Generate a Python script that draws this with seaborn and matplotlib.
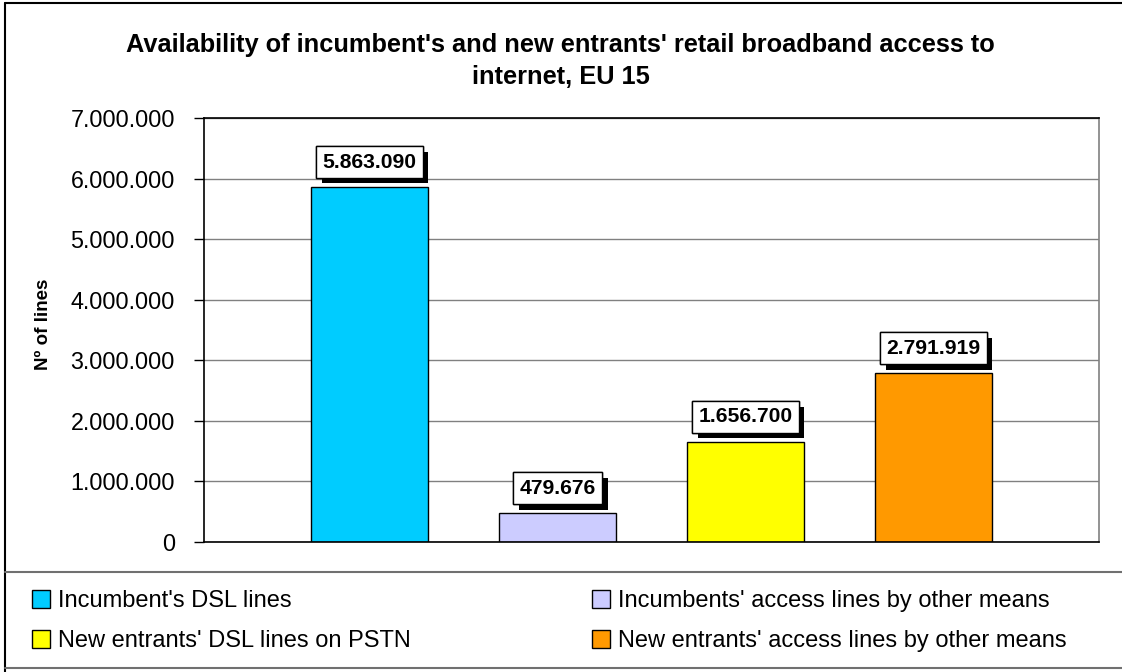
import matplotlib
matplotlib.use("Agg")
import matplotlib.pyplot as plt
import matplotlib.patheffects as pe
from matplotlib.lines import Line2D
import seaborn as sns
import pandas as pd

# ---- data ----
series = ["Incumbent's DSL lines",
          "Incumbents' access lines by other means",
          "New entrants' DSL lines on PSTN",
          "New entrants' access lines by other means"]
values = [5863090, 479676, 1656700, 2791919]
colors = ["#00CCFF", "#CCCCFF", "#FFFF00", "#FF9900"]
yticks = [0, 1000000, 2000000, 3000000, 4000000, 5000000, 6000000, 7000000]
title = "Availability of incumbent's and new entrants' retail broadband access to\ninternet, EU 15"
ylabel = "Nº of lines"

df = pd.DataFrame({"cat": ["EU 15"] * 4, "series": series, "value": values})

sns.set_theme(style="white")
plt.rcParams["font.family"] = ["Liberation Sans", "DejaVu Sans"]
plt.rcParams.update({"text.color": "black", "axes.labelcolor": "black",
                     "xtick.color": "black", "ytick.color": "black"})

fig = plt.figure(figsize=(11.22, 6.72), dpi=100)
ax = fig.add_axes([204 / 1122, 1 - 542 / 672, (1099 - 204) / 1122, (542 - 118) / 672])

sns.barplot(data=df, x="cat", y="value", hue="series", hue_order=series,
            palette=colors, saturation=1, gap=0.38, width=0.8, edgecolor="black",
            linewidth=1, legend=True, ax=ax)

ax.set_xlim(-0.476, 0.476)
ax.set_ylim(0, 7000000)
ax.set_yticks(yticks)
ax.set_yticklabels([f"{v:,.0f}".replace(",", ".") for v in yticks], fontsize=16.8)
ax.set_xticks([])
ax.set_xlabel("")
ax.set_ylabel(ylabel, fontsize=13.5, fontweight="bold")
ax.yaxis.set_label_coords((52 - 204) / 895, (542 - 324) / 424)
ax.yaxis.grid(True, color="#808080", linewidth=1)
ax.set_axisbelow(True)
ax.tick_params(axis="y", which="both", left=True, length=7, width=1, color="black",
               labelcolor="black", pad=14)
for s in ["left", "bottom", "top"]:
    ax.spines[s].set_color("black")
    ax.spines[s].set_linewidth(1.2)
ax.spines["right"].set_color("#808080")
ax.spines["right"].set_linewidth(1.2)

fig.text(0.4995, 1 - 61 / 672, title, ha="center", va="center", fontsize=18.3,
         fontweight="bold", linespacing=1.38, color="black")

# value labels
for cont in ax.containers:
    texts = ax.bar_label(cont, labels=[f"{v:,.0f}".replace(",", ".") for v in cont.datavalues],
                         padding=11, fontsize=15.2, fontweight="bold", color="black",
                         bbox=dict(boxstyle="square,pad=0.3", facecolor="white",
                                   edgecolor="black", linewidth=1))
    for t in texts:
        t.get_bbox_patch().set_path_effects([
            pe.withSimplePatchShadow(offset=(4, -4), shadow_rgbFace="black", alpha=1.0),
            pe.Normal()])

# legend
handles, labels = ax.get_legend_handles_labels()
ax.get_legend().remove()
order = [0, 2, 1, 3]
leg = fig.legend([handles[i] for i in order], [labels[i] for i in order],
                 ncol=2, loc="upper left", bbox_to_anchor=(32 / 1122, 1 - 590 / 672),
                 frameon=False, fontsize=17, handlelength=0.78, handleheight=0.78,
                 handletextpad=0.33, columnspacing=7.67, labelspacing=0.76,
                 borderaxespad=0, borderpad=0, labelcolor="black")
for h in leg.legend_handles:
    h.set_edgecolor("black")
    h.set_linewidth(1)

# chart frame lines
def fline(x0, y0, x1, y1, color="black", lw=1.5):
    fig.add_artist(Line2D([x0 / 1122, x1 / 1122], [1 - y0 / 672, 1 - y1 / 672],
                          color=color, linewidth=lw, transform=fig.transFigure))

fline(5, 3, 1122, 3)
fline(5, 3, 5, 672)
fline(5, 572, 1122, 572, color="#707070", lw=1.5)
fline(5, 668, 1122, 668, color="#707070", lw=1.5)

fig.savefig("out.png", dpi=100)
